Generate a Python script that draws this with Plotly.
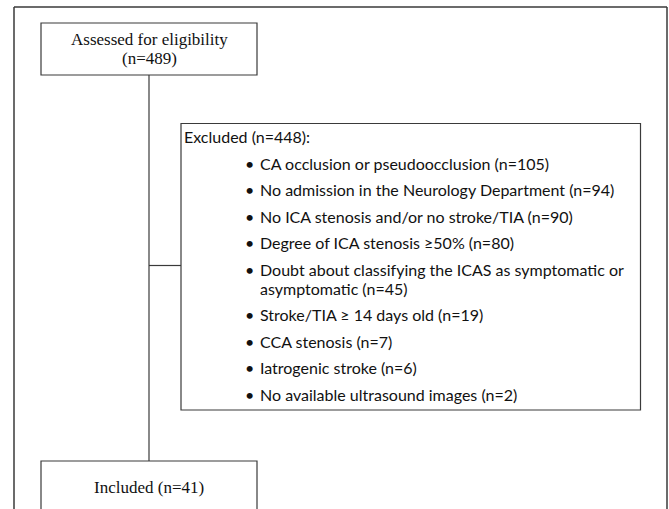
import plotly.graph_objects as go

# ---- data ----
assessed_label = "Assessed for eligibility"
assessed_n = 489
excluded_n = 448
included_n = 41
reasons = [
    "CA occlusion or pseudoocclusion",
    "No admission in the Neurology Department",
    "No ICA stenosis and/or no stroke/TIA",
    "Degree of ICA stenosis \u226550%",
    "Doubt about classifying the ICAS as symptomatic or|asymptomatic",
    "Stroke/TIA \u2265 14 days old",
    "CCA stenosis",
    "Iatrogenic stroke",
    "No available ultrasound images",
]
reason_counts = [105, 94, 90, 80, 45, 19, 7, 6, 2]

LINE = "#3a3a3a"
SERIF = "Liberation Serif"
SANS = "Lato"
TXT = "#111"

fig = go.Figure()
fig.add_trace(go.Scatter(x=[0], y=[0], mode="markers", marker=dict(opacity=0),
                         hoverinfo="skip", showlegend=False))

shapes = []
def rect(x0, y0, x1, y1, w=1.2):
    shapes.append(dict(type="rect", xref="x", yref="y", x0=x0, y0=y0, x1=x1, y1=y1,
                       line=dict(color=LINE, width=w), fillcolor="rgba(0,0,0,0)", layer="below"))
def line(x0, y0, x1, y1, w=1.2):
    shapes.append(dict(type="line", xref="x", yref="y", x0=x0, y0=y0, x1=x1, y1=y1,
                       line=dict(color=LINE, width=w)))

# outer frame (bottom runs off the picture)
line(14, 7, 667, 7, 1.5)
line(14, 7, 14, 520, 1.5)
line(667, 7, 667, 520, 1.5)
# boxes
rect(41, 23, 257, 75)
rect(181, 123.5, 640.5, 410)
rect(41, 461, 257, 530)
# connectors
line(149, 75, 149, 461)
line(149, 265.5, 181, 265.5)

def txt(x, y, s, fam, size, xa="left"):
    ann.append(dict(x=x, y=y, text=s, showarrow=False, xanchor=xa, yanchor="middle",
                    align="left", font=dict(family=fam, size=size, color=TXT)))

ann = []
txt(149, 39.5, assessed_label, SERIF, 17, "center")
txt(149, 58.5, f"(n={assessed_n})", SERIF, 17, "center")
txt(149, 487, f"Included (n={included_n})", SERIF, 17, "center")
txt(182, 136, f"Excluded (n={excluded_n}):", SANS, 16)

y = 163
for lab, n in zip(reasons, reason_counts):
    parts = lab.split("|")
    txt(243, y, "\u2022", SANS, 16)
    for i, p in enumerate(parts):
        s = p + (f" (n={n})" if i == len(parts) - 1 else "")
        txt(258, y + 19 * i, s, SANS, 16)
    y += 26.5 + 19 * (len(parts) - 1)

fig.update_layout(
    width=669, height=509, margin=dict(l=0, r=0, t=0, b=0),
    paper_bgcolor="white", plot_bgcolor="white",
    xaxis=dict(range=[0, 669], visible=False, fixedrange=True),
    yaxis=dict(range=[509, 0], visible=False, fixedrange=True),
    shapes=shapes, annotations=ann, showlegend=False,
)
fig.write_html("out.html", config={"displayModeBar": False},
               post_script="document.body.style.margin='0';document.body.style.overflow='hidden';")
